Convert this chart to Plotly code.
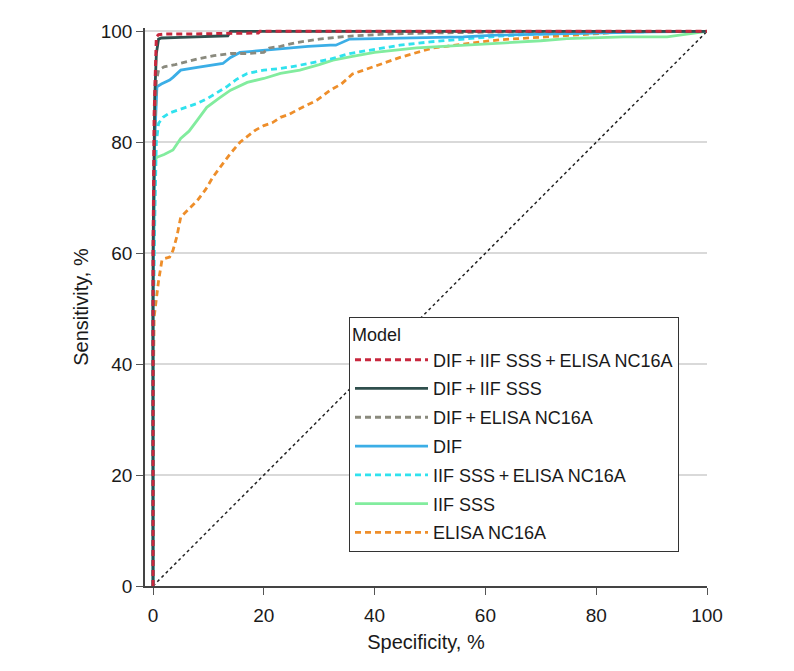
import plotly.graph_objects as go

TS = "\u2009+\u2009"
names = [
    "DIF" + TS + "IIF SSS" + TS + "ELISA NC16A",
    "DIF" + TS + "IIF SSS",
    "DIF" + TS + "ELISA NC16A",
    "DIF",
    "IIF SSS" + TS + "ELISA NC16A",
    "IIF SSS",
    "ELISA NC16A",
]

# 100 - specificity (x, %) and sensitivity (y, %)
x_all3 = [0, 0, 0.2, 0.4, 0.6, 1, 2, 5, 10, 15, 19, 19.3, 100]
y_all3 = [0, 60, 85, 95, 99, 99.4, 99.5, 99.5, 99.6, 99.7, 99.7, 100, 100]

x_dif_iif = [0, 0, 0.3, 0.6, 1.0, 1.5, 5, 10, 13.5, 14, 100]
y_dif_iif = [0, 60, 88, 96, 98.6, 98.8, 98.9, 99.0, 99.2, 100, 100]

x_dif_elisa = [0, 0, 0.3, 0.6, 1, 2, 4, 6, 8, 11, 14, 17, 20, 21, 23, 26, 30, 35, 42, 50, 60, 70, 100]
y_dif_elisa = [0, 50, 80, 91, 93, 93.6, 94, 94.5, 95, 95.6, 96, 96, 96.2, 97, 97.3, 98, 98.6, 99.1, 99.5, 99.7, 99.9, 100, 100]

x_dif = [0, 0, 0.3, 0.7, 1.5, 3, 3.6, 5, 8, 12, 12.6, 14, 15.7, 18, 20, 24, 28, 32, 33, 35.5, 45, 56, 62, 70, 80, 90, 100]
y_dif = [0, 50, 80, 90, 90.5, 91.2, 91.7, 93, 93.5, 94, 94.2, 95.3, 96.2, 96.4, 96.6, 97, 97.3, 97.5, 97.5, 98.6, 98.8, 99, 99.3, 99.5, 99.7, 99.9, 100]

x_iif_elisa = [0, 0, 0.3, 0.6, 1, 1.8, 3, 5, 8, 10, 13.3, 15, 17, 20, 23, 26, 29, 32, 35.5, 40, 44.6, 50, 56.7, 62, 68.6, 75, 85, 100]
y_iif_elisa = [0, 40, 65, 80, 83.4, 84.5, 85.3, 86, 87, 88, 90, 91.3, 92.4, 93, 93.3, 93.8, 94.4, 95, 96, 96.8, 97.5, 98.1, 98.7, 99.1, 99.5, 99.7, 99.9, 100]

x_iif = [0, 0, 0.3, 0.7, 2, 3.6, 5, 6.5, 8, 9.7, 12, 14, 17, 20, 23, 26.5, 30, 32.5, 36, 40, 47.6, 55, 62.6, 70, 74.7, 80, 85, 92.8, 96, 100]
y_iif = [0, 50, 76.5, 77.3, 77.8, 78.6, 80.7, 82, 84, 86.3, 88, 89.4, 90.8, 91.5, 92.4, 93, 94, 94.8, 95.5, 96.2, 97, 97.4, 97.8, 98.3, 98.7, 98.9, 99, 99, 99.4, 100]

x_elisa = [0, 0, 0.2, 0.4, 0.7, 1.0, 1.6, 2, 3, 3.6, 4.3, 5, 6.5, 8, 9.5, 10.8, 12.5, 14, 15.7, 17, 18.5, 20, 21.5, 23, 24.5, 26, 28, 29.6, 32, 34, 36, 38, 40, 42, 44.6, 47, 50.5, 53, 56.7, 60, 63, 66, 68.6, 72, 76, 80, 83, 86.6, 100]
y_elisa = [0, 30, 48.5, 50.3, 53.3, 55, 58.7, 59, 59.3, 60.5, 63, 66.5, 68, 69.5, 71.5, 73.7, 76, 78, 80, 81, 82.2, 83, 83.5, 84.5, 85, 85.8, 86.8, 87.6, 89.4, 90.5, 92.3, 93, 93.6, 94.3, 95.3, 96, 97, 97.3, 97.8, 98.2, 98.5, 98.7, 98.8, 99.1, 99.4, 99.6, 99.8, 100, 100]

x_ref = [0, 100]
y_ref = [0, 100]

ticks = [0, 20, 40, 60, 80, 100]

series = [
    (x_all3, y_all3, "#C8283E", "6px,4px", 3),
    (x_dif_iif, y_dif_iif, "#2F4F4D", "solid", 2.8),
    (x_dif_elisa, y_dif_elisa, "#8A8A7E", "6px,4px", 2.8),
    (x_dif, y_dif, "#3BAEE6", "solid", 2.8),
    (x_iif_elisa, y_iif_elisa, "#30E2EE", "6px,4px", 2.8),
    (x_iif, y_iif, "#82EC9E", "solid", 2.8),
    (x_elisa, y_elisa, "#EE8E2A", "6px,4px", 2.8),
]

FONT = "Liberation Sans, Arial, sans-serif"

fig = go.Figure()
fig.add_trace(go.Scatter(x=x_ref, y=y_ref, mode="lines", showlegend=False,
                         line=dict(color="#222222", width=1.5, dash="dot"),
                         hoverinfo="skip"))
traces = []
for i, ((xs, ys, c, d, w), n) in enumerate(zip(series, names)):
    traces.append(go.Scatter(x=xs, y=ys, mode="lines", name=n,
                             legendgroup="g%d" % i, legendrank=100 + i,
                             line=dict(color=c, dash=d, width=w)))
# draw lower-ranked models first so the best model sits on top
for t in reversed(traces):
    fig.add_trace(t)

fig.update_layout(
    width=794, height=671,
    margin=dict(l=137, r=95, t=20, b=93),
    paper_bgcolor="white", plot_bgcolor="white",
    font=dict(family=FONT, size=19, color="#1a1a1a"),
    showlegend=True,
    legend=dict(
        x=0.363, y=0.482, xanchor="left", yanchor="top",
        bordercolor="#333333", borderwidth=1, bgcolor="white",
        font=dict(size=18, color="#1a1a1a"),
        title=dict(text="Model", font=dict(size=18)),
        traceorder="grouped",
        itemwidth=73,
        tracegroupgap=2.4,
    ),
    xaxis=dict(
        range=[-1.45, 100], tickvals=ticks, ticks="outside", ticklen=7,
        tickcolor="#555555", showline=True, linecolor="#444444", linewidth=1.5,
        showgrid=False, zeroline=False,
        title=dict(text="Specificity, %", font=dict(size=20), standoff=10),
        tickfont=dict(size=19),
        ticklabelstandoff=4,
    ),
    yaxis=dict(
        range=[0, 100.6], tickvals=ticks, ticks="outside", ticklen=7,
        tickcolor="#555555", showline=True, linecolor="#444444", linewidth=1.5,
        showgrid=True, gridcolor="#d9d9d9", gridwidth=1.5, zeroline=False,
        title=dict(text="Sensitivity, %", font=dict(size=20), standoff=7),
        tickfont=dict(size=19),
    ),
)

fig.write_html("out.html")
